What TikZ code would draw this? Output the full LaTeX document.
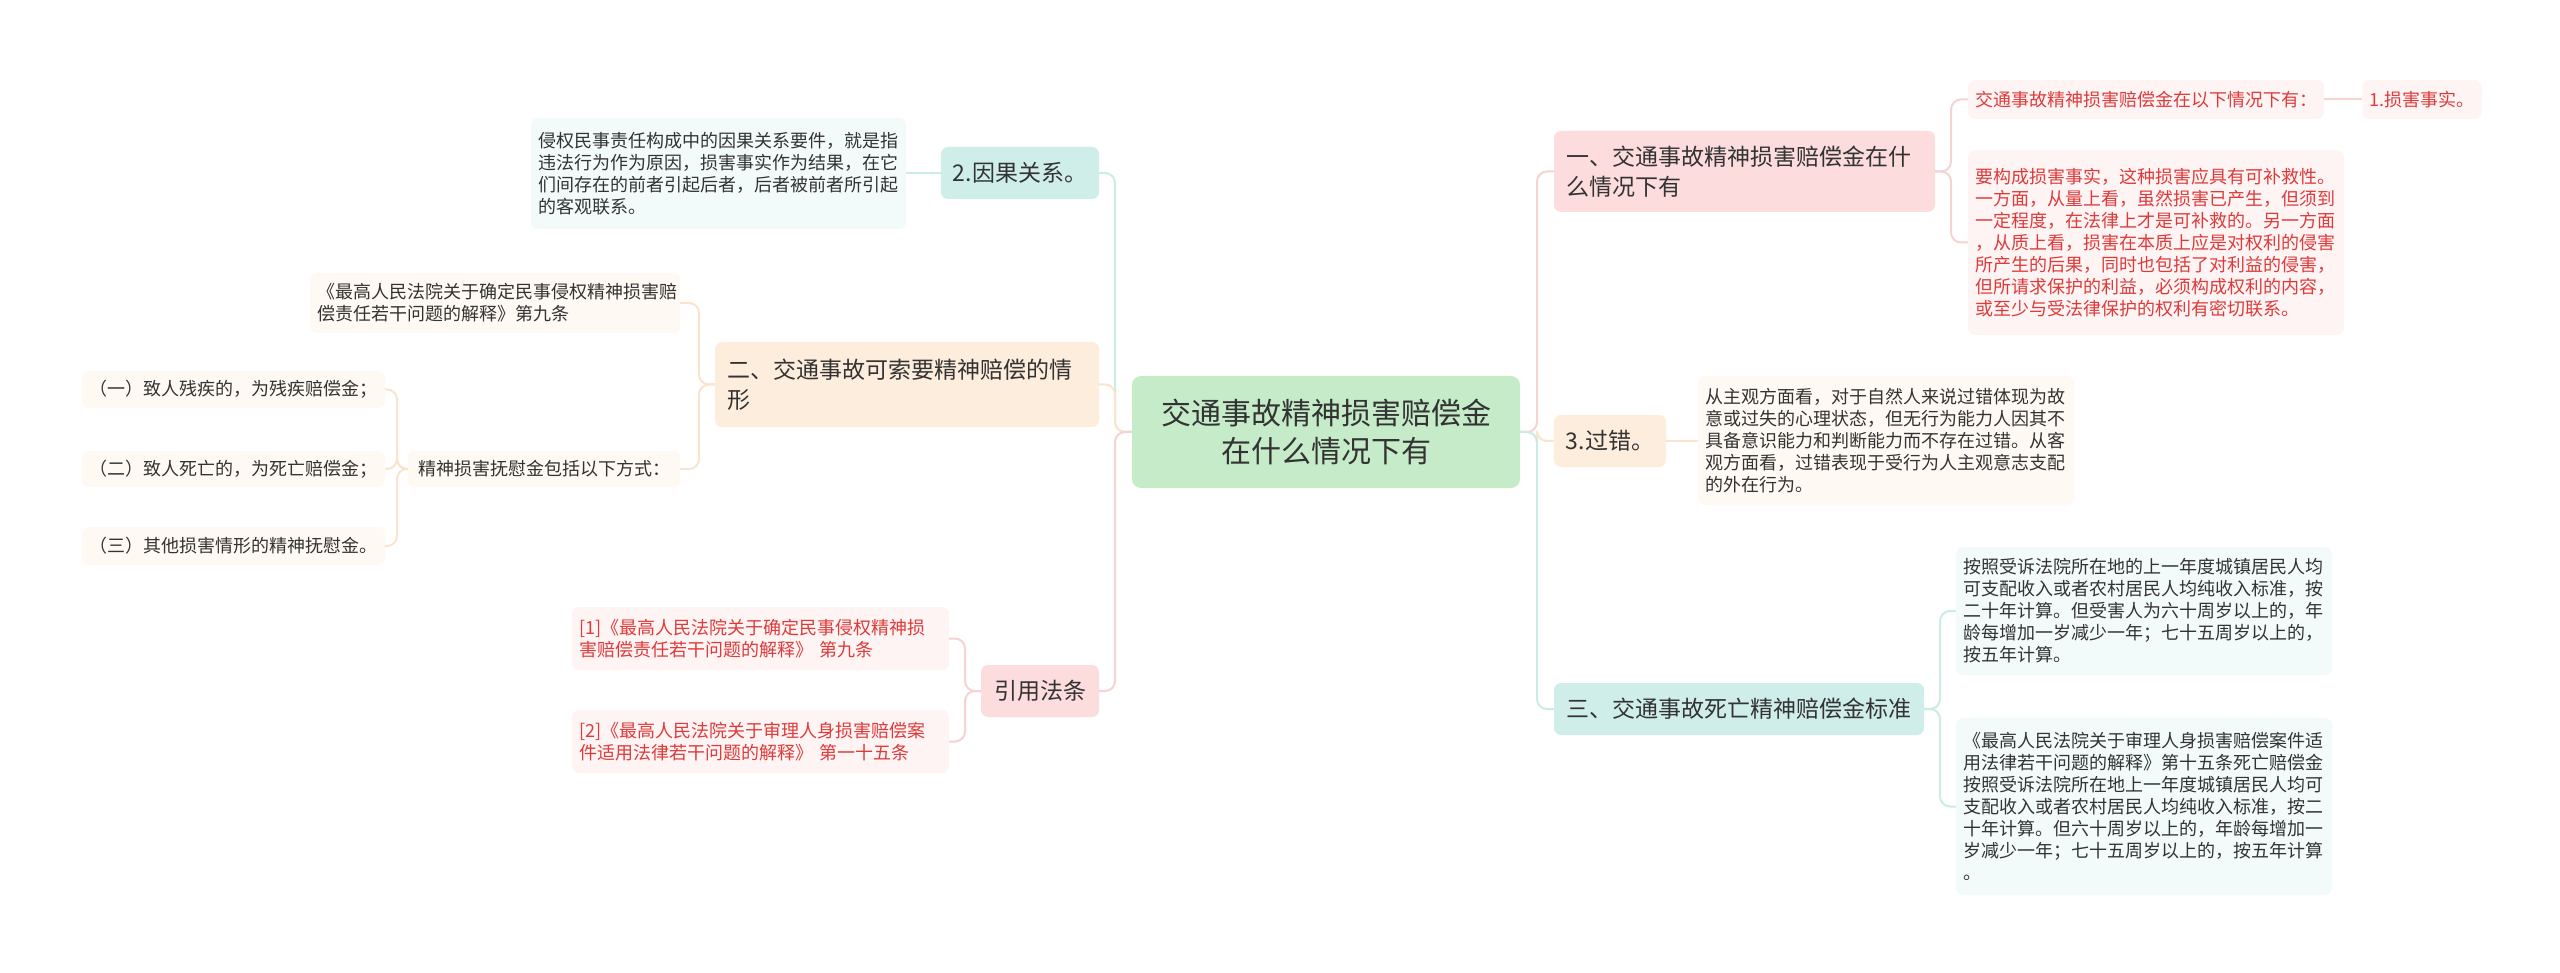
\documentclass[tikz,border=0pt]{standalone}
\usepackage{fontspec}
\setmainfont{Noto Sans CJK SC}
\definecolor{txt}{HTML}{333333}
\definecolor{red1}{HTML}{DD3B3B}
\definecolor{rootc}{HTML}{C5EBC8}
\definecolor{tealc}{HTML}{CFEEEA}
\definecolor{teall}{HTML}{C9ECE7}
\definecolor{tealf}{HTML}{F3FAFA}
\definecolor{peachc}{HTML}{FDEDDC}
\definecolor{peachl}{HTML}{FBE4CD}
\definecolor{peachf}{HTML}{FFF9F3}
\definecolor{pinkc}{HTML}{FCDCDC}
\definecolor{pinkl}{HTML}{F6D2D3}
\definecolor{pinkf}{HTML}{FFF4F4}
\tikzset{
  base/.style={rectangle, rounded corners=7pt, inner xsep=7pt, inner ysep=3pt, text=txt, anchor=center},
  rootbox/.style={base, fill=rootc, rounded corners=9pt, align=center, font=\fontsize{30}{38}\selectfont},
  brbox/.style={base, font=\fontsize{23}{30}\selectfont, inner xsep=12pt},
  lfbox/.style={base, font=\fontsize{18}{22}\selectfont},
  conn/.style={line width=2pt, rounded corners=10pt},
}
\begin{document}
\begin{tikzpicture}[x=1pt,y=-1pt]
\fill[white] (0,0) rectangle (2560,973);
\useasboundingbox (0,0) rectangle (2560,973);

% root
\node[rootbox, minimum width=388, minimum height=112] (root) at (1326,432) {交通事故精神损害赔偿金\\在什么情况下有};

% left branches
\node[brbox, fill=tealc, minimum width=158, minimum height=52, align=center] (b1) at (1020,173) {2.因果关系。};
\node[brbox, fill=peachc, minimum width=384, minimum height=85, text width=360, align=left] (b2) at (907,384.5) {二、交通事故可索要精神赔偿的情\\形};
\node[brbox, fill=pinkc, minimum width=118, minimum height=52, align=center] (b3) at (1040,691) {引用法条};

% right branches
\node[brbox, fill=pinkc, minimum width=381, minimum height=81, text width=357, align=left] (b4) at (1744.5,171.5) {一、交通事故精神损害赔偿金在什\\么情况下有};
\node[brbox, fill=peachc, minimum width=112, minimum height=52, align=center] (b5) at (1610,441) {3.过错。};
\node[brbox, fill=tealc, minimum width=370, minimum height=52, align=center] (b6) at (1739,709) {三、交通事故死亡精神赔偿金标准};

% left leaves
\node[lfbox, fill=tealf, minimum width=375, minimum height=111, text width=361, align=left] (l1) at (718.5,173.5) {侵权民事责任构成中的因果关系要件，就是指\\违法行为作为原因，损害事实作为结果，在它\\们间存在的前者引起后者，后者被前者所引起\\的客观联系。};
\node[lfbox, fill=peachf, minimum width=370, minimum height=60, text width=356, align=left] (l2) at (495,303) {《最高人民法院关于确定民事侵权精神损害赔\\偿责任若干问题的解释》第九条};
\node[lfbox, fill=peachf, minimum width=272, minimum height=36, align=center] (l3) at (544,469) {精神损害抚慰金包括以下方式：};
\node[lfbox, fill=peachf, minimum width=303, minimum height=37, align=center] (l3a) at (233.5,389.5) {（一）致人残疾的，为残疾赔偿金；};
\node[lfbox, fill=peachf, minimum width=303, minimum height=36, align=center] (l3b) at (233.5,469) {（二）致人死亡的，为死亡赔偿金；};
\node[lfbox, fill=peachf, minimum width=303, minimum height=38, align=center] (l3c) at (233.5,546) {（三）其他损害情形的精神抚慰金。};
\node[lfbox, fill=pinkf, text=red1, minimum width=377, minimum height=63, text width=363, align=left] (l4) at (760.5,638.5) {[1]《最高人民法院关于确定民事侵权精神损\\害赔偿责任若干问题的解释》 第九条};
\node[lfbox, fill=pinkf, text=red1, minimum width=377, minimum height=63, text width=363, align=left] (l5) at (760.5,741.5) {[2]《最高人民法院关于审理人身损害赔偿案\\件适用法律若干问题的解释》 第一十五条};

% right leaves
\node[lfbox, fill=pinkf, text=red1, minimum width=356, minimum height=39, align=center] (r1) at (2146,99.5) {交通事故精神损害赔偿金在以下情况下有：};
\node[lfbox, fill=pinkf, text=red1, minimum width=118, minimum height=39, align=center] (r1a) at (2422,99.5) {1.损害事实。};
\node[lfbox, fill=pinkf, text=red1, minimum width=376, minimum height=185, text width=362, align=left] (r2) at (2156,242.5) {要构成损害事实，这种损害应具有可补救性。\\一方面，从量上看，虽然损害已产生，但须到\\一定程度，在法律上才是可补救的。另一方面\\，从质上看，损害在本质上应是对权利的侵害\\所产生的后果，同时也包括了对利益的侵害，\\但所请求保护的利益，必须构成权利的内容，\\或至少与受法律保护的权利有密切联系。};
\node[lfbox, fill=peachf, minimum width=376, minimum height=129, text width=362, align=left] (r3) at (1886,440.5) {从主观方面看，对于自然人来说过错体现为故\\意或过失的心理状态，但无行为能力人因其不\\具备意识能力和判断能力而不存在过错。从客\\观方面看，过错表现于受行为人主观意志支配\\的外在行为。};
\node[lfbox, fill=tealf, minimum width=376, minimum height=128, text width=362, align=left] (r4) at (2144,611) {按照受诉法院所在地的上一年度城镇居民人均\\可支配收入或者农村居民人均纯收入标准，按\\二十年计算。但受害人为六十周岁以上的，年\\龄每增加一岁减少一年；七十五周岁以上的，\\按五年计算。};
\node[lfbox, fill=tealf, minimum width=376, minimum height=177, text width=362, align=left] (r5) at (2144,806.5) {《最高人民法院关于审理人身损害赔偿案件适\\用法律若干问题的解释》第十五条死亡赔偿金\\按照受诉法院所在地上一年度城镇居民人均可\\支配收入或者农村居民人均纯收入标准，按二\\十年计算。但六十周岁以上的，年龄每增加一\\岁减少一年；七十五周岁以上的，按五年计算\\。};

% spine coordinates
\coordinate (sl) at (1115,432);
\coordinate (sr) at (1537,432);
\coordinate (s2) at (699,384.5);
\coordinate (s3) at (397,469);
\coordinate (sb3) at (965,691);
\coordinate (s4) at (1951,171.5);
\coordinate (s6) at (1940,709);

% root connectors
\draw[conn, teall] (root.west) -- (sl) |- (b1.east);
\draw[conn, peachl] (root.west) -- (sl) |- (b2.east);
\draw[conn, pinkl] (root.west) -- (sl) |- (b3.east);
\draw[conn, pinkl] (root.east) -- (sr) |- (b4.west);
\draw[conn, peachl] (root.east) -- (sr) |- (b5.west);
\draw[conn, teall] (root.east) -- (sr) |- (b6.west);

% sub connectors
\draw[conn, teall] (b1.west) -- (b1.west -| l1.east);
\draw[conn, peachl] (b2.west) -- (s2) |- (l2.east);
\draw[conn, peachl] (b2.west) -- (s2) |- (l3.east);
\draw[conn, peachl] (l3.west) -- (s3) |- (l3a.east);
\draw[conn, peachl] (l3.west) -- (s3) |- (l3b.east);
\draw[conn, peachl] (l3.west) -- (s3) |- (l3c.east);
\draw[conn, pinkl] (b3.west) -- (sb3) |- (l4.east);
\draw[conn, pinkl] (b3.west) -- (sb3) |- (l5.east);
\draw[conn, pinkl] (b4.east) -- (s4) |- (r1.west);
\draw[conn, pinkl] (b4.east) -- (s4) |- (r2.west);
\draw[conn, pinkl] (r1.east) -- (r1a.west);
\draw[conn, peachl] (b5.east) -- (b5.east -| r3.west);
\draw[conn, teall] (b6.east) -- (s6) |- (r4.west);
\draw[conn, teall] (b6.east) -- (s6) |- (r5.west);
\end{tikzpicture}
\end{document}
